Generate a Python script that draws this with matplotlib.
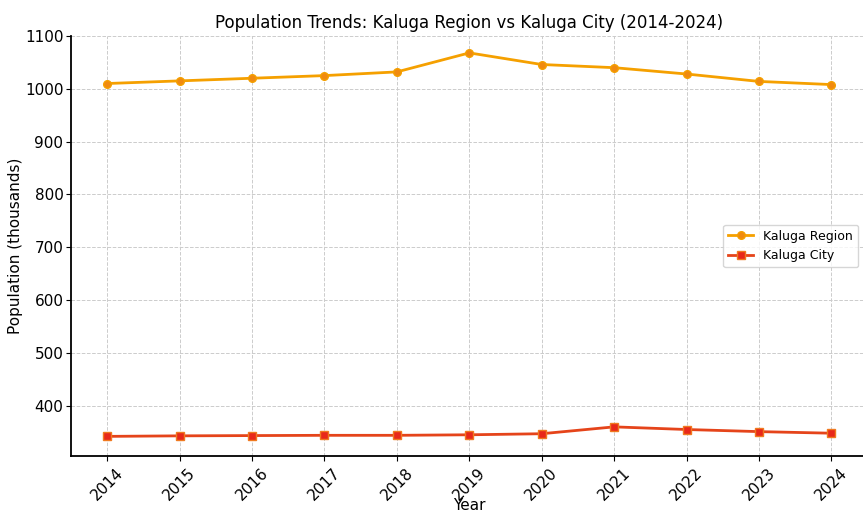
import matplotlib

matplotlib.use("Agg")
import matplotlib.pyplot as plt

years = [2014, 2015, 2016, 2017, 2018, 2019, 2020, 2021, 2022, 2023, 2024]
region = [1010, 1015, 1020, 1025, 1032, 1068, 1046, 1040, 1028, 1014, 1008]
city = [342, 343, 343.5, 344, 344, 345, 347, 360, 355, 351, 348]

fig = plt.figure(figsize=(8.63, 5.14), dpi=100)
ax = fig.add_axes([0.0823, 0.113, 0.923, 0.817])

ax.plot(years, region, color="#f5a000", marker="o", markersize=5.5,
        markerfacecolor="#f08a10", markeredgecolor="#f5a000",
        linewidth=2, label="Kaluga Region")
ax.plot(years, city, color="#e5441a", marker="s", markersize=5.5,
        markerfacecolor="#e8281a", markeredgecolor="#f07a20",
        linewidth=2, label="Kaluga City")

ax.set_xlim(2013.5, 2024.5)
ax.set_ylim(305, 1100)
ax.set_xticks(years)
ax.set_xticklabels([str(y) for y in years], rotation=45, fontsize=11)
ax.tick_params(axis="y", labelsize=11, pad=2)
ax.set_xlabel("Year", fontsize=11)
ax.xaxis.set_label_coords(0.5, -0.1)
ax.set_ylabel("Population (thousands)", fontsize=11)
ax.yaxis.set_label_coords(-0.06, 0.5)
ax.set_title("Population Trends: Kaluga Region vs Kaluga City (2014-2024)", fontsize=12)
ax.grid(True, linestyle="--", color="#cccccc", linewidth=0.7)
ax.spines["top"].set_visible(False)
ax.spines["right"].set_visible(False)
ax.spines["left"].set_linewidth(1.3)
ax.spines["bottom"].set_linewidth(1.3)
ax.legend(loc="center right", fontsize=9, bbox_to_anchor=(0.996, 0.5))

fig.savefig("out.png", dpi=100)
